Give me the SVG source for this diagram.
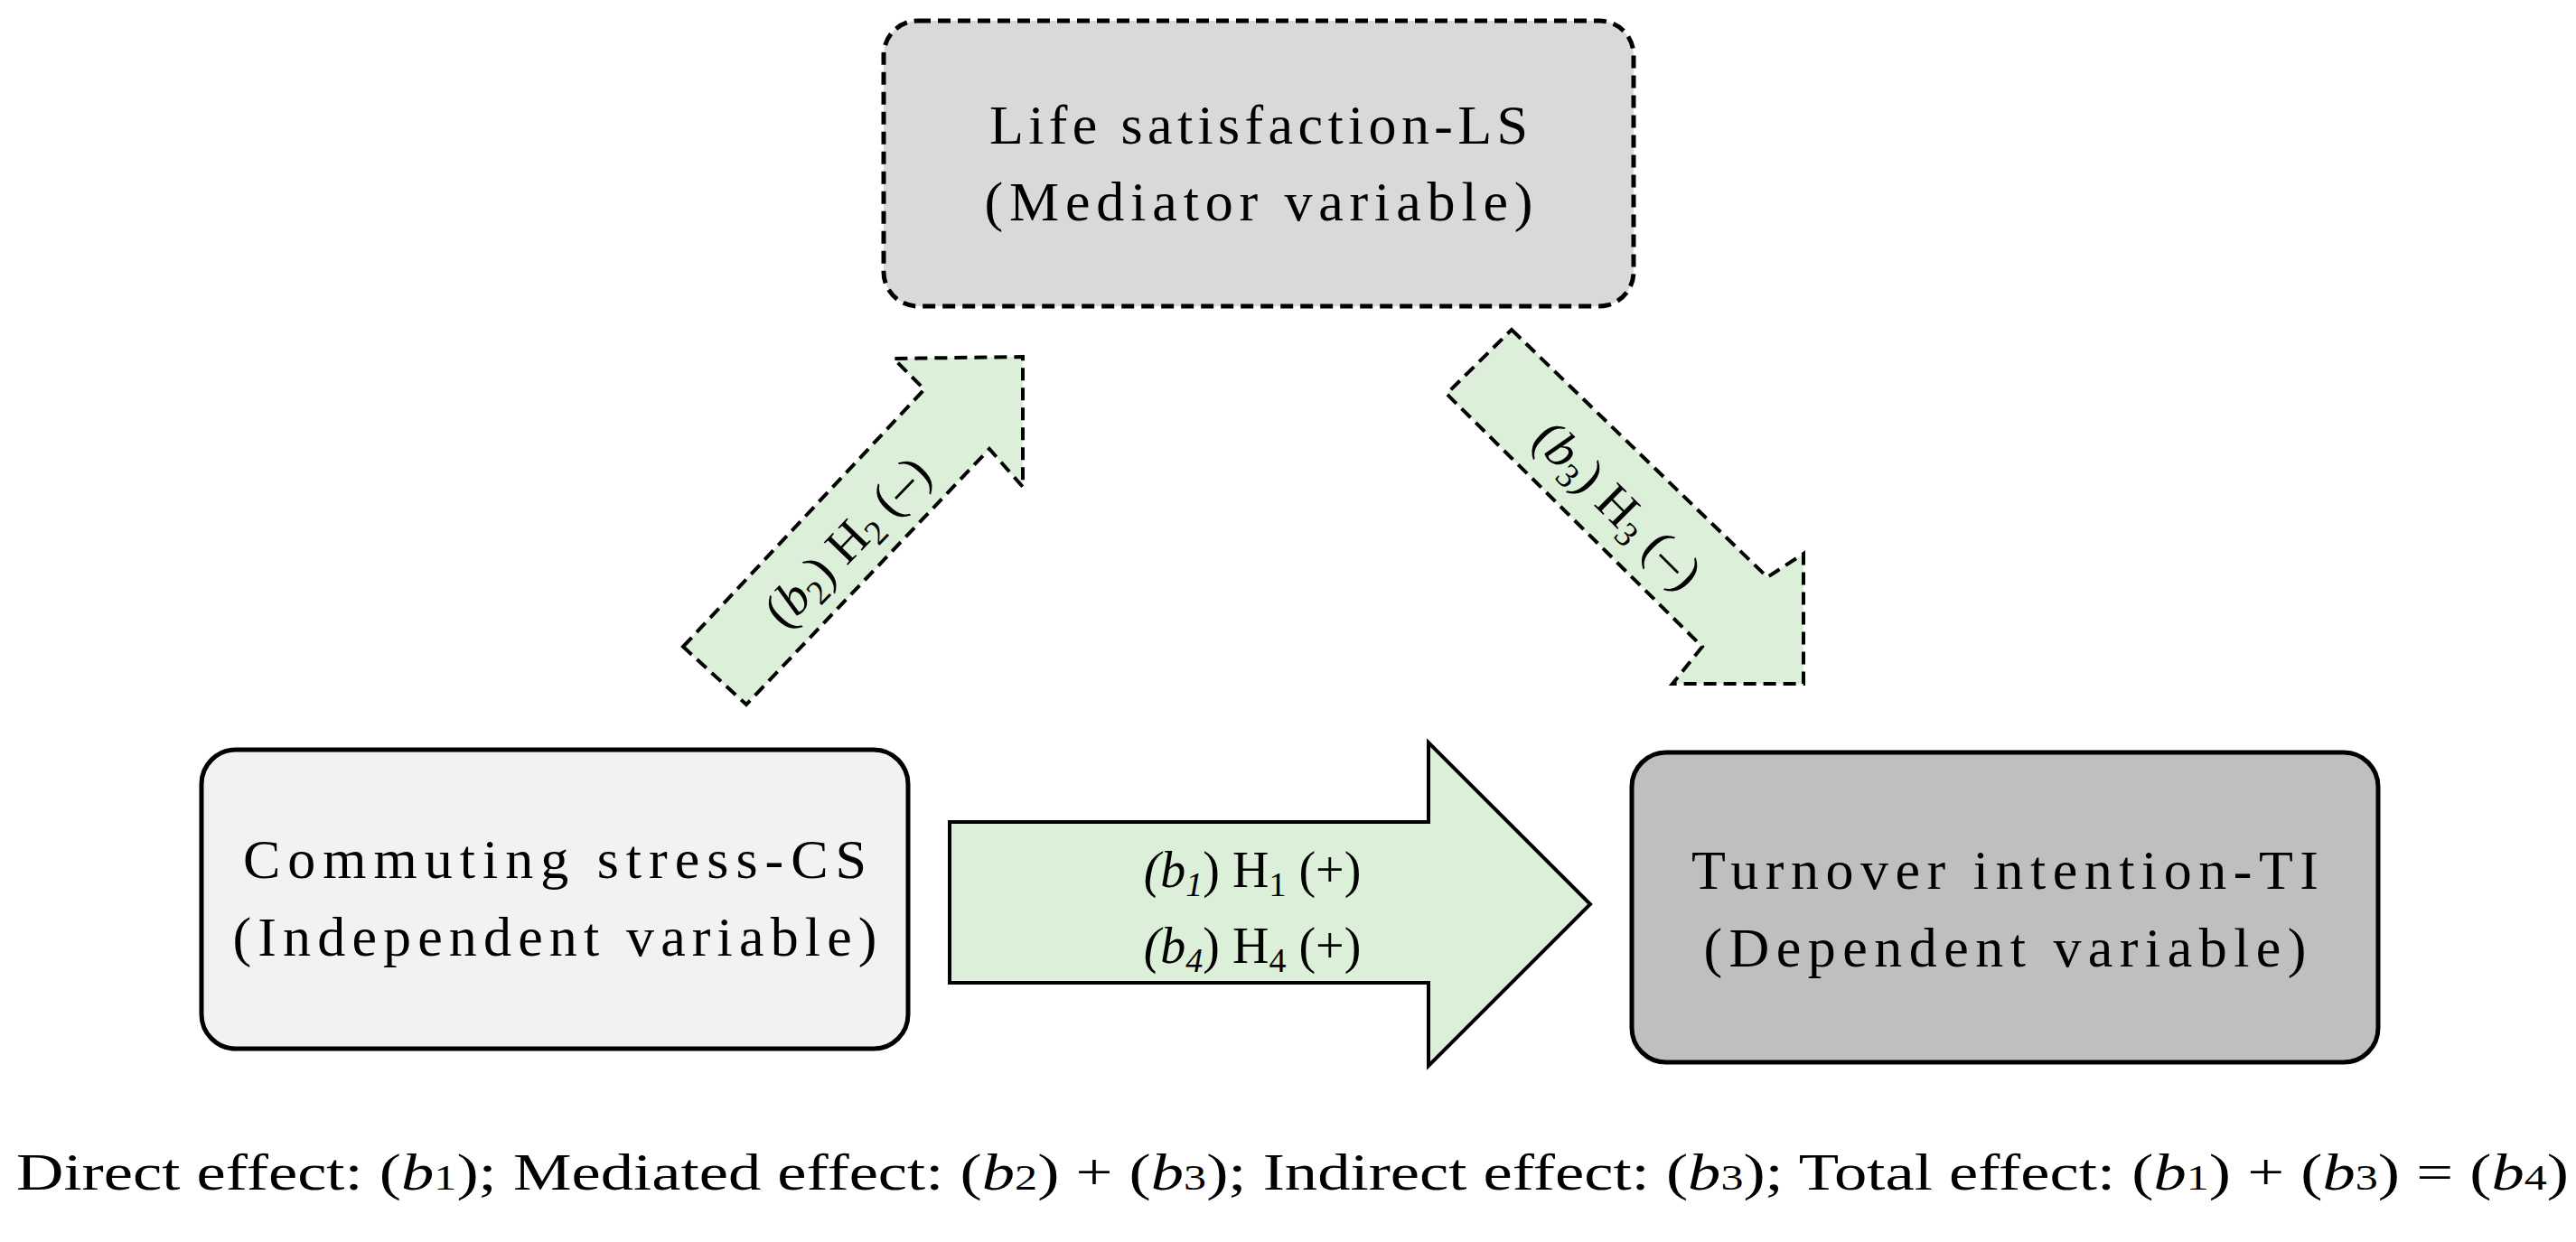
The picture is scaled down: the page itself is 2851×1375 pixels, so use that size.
<svg xmlns="http://www.w3.org/2000/svg" width="2851" height="1375" viewBox="0 0 2851 1375">
<style>
text{font-family:"Liberation Serif","DejaVu Serif",serif;fill:#000;}
.box{stroke:#000;stroke-width:5;}
.dash{stroke-dasharray:14 8;}
.arr{fill:#dcefd9;stroke:#000;stroke-width:4;}
.t{font-size:62px;text-anchor:middle;}
.l{font-size:56px;text-anchor:middle;}
</style>
<rect width="2851" height="1375" fill="#fff"/>
<g id="connectors">
  <path class="arr" d="M1051,910 H1581 V822 L1760,1001 L1581,1180 V1088 H1051 Z"/>
  <path class="arr dash" d="M756,716 L1023,431 L989,397 L1132,395 L1132,539 L1095,497 L826,780 Z"/>
  <path class="arr dash" d="M1673,365 L1956,639 L1996,613 L1996,757 L1851,757 L1884,716 L1601,436 Z"/>
  <text class="l" x="1386" y="982"><tspan font-style="italic">(b</tspan><tspan font-style="italic" font-size="38" dy="10">1</tspan><tspan dy="-10">) H</tspan><tspan font-size="38" dy="10">1</tspan><tspan dy="-10"> (+)</tspan></text>
  <text class="l" x="1386" y="1066"><tspan font-style="italic">(b</tspan><tspan font-style="italic" font-size="38" dy="10">4</tspan><tspan dy="-10">) H</tspan><tspan font-size="38" dy="10">4</tspan><tspan dy="-10"> (+)</tspan></text>
  <text class="l" transform="translate(938,600) rotate(-46)" y="18">(<tspan font-style="italic">b</tspan><tspan font-size="38" dy="10">2</tspan><tspan dy="-10">) H</tspan><tspan font-size="38" dy="10">2</tspan><tspan dy="-10"> (–)</tspan></text>
  <text class="l" transform="translate(1790,560) rotate(45)" y="18">(<tspan font-style="italic">b</tspan><tspan font-size="38" dy="10">3</tspan><tspan dy="-10">) H</tspan><tspan font-size="38" dy="10">3</tspan><tspan dy="-10"> (–)</tspan></text>
</g>
<g id="LS">
  <rect class="box dash" x="978" y="23" width="830" height="316" rx="38" fill="#d9d9d9"/>
  <text class="t" x="1393" y="159" textLength="596">Life satisfaction-LS</text>
  <text class="t" x="1393" y="244" textLength="607">(Mediator variable)</text>
</g>
<g id="CS">
  <rect class="box" x="223" y="830" width="782" height="331" rx="38" fill="#f2f2f2"/>
  <text class="t" x="614" y="972" textLength="690">Commuting stress-CS</text>
  <text class="t" x="614" y="1058" textLength="713">(Independent variable)</text>
</g>
<g id="TI">
  <rect class="box" x="1806" y="833" width="826" height="343" rx="38" fill="#bfbfbf"/>
  <text class="t" x="2219" y="984" textLength="694">Turnover intention-TI</text>
  <text class="t" x="2219" y="1070" textLength="667">(Dependent variable)</text>
</g>
<g id="caption">
  <text x="18" y="1317" font-size="58" textLength="2825" lengthAdjust="spacingAndGlyphs">Direct effect: (<tspan font-style="italic">b</tspan><tspan font-size="40">1</tspan>); Mediated effect: (<tspan font-style="italic">b</tspan><tspan font-size="40">2</tspan>) + (<tspan font-style="italic">b</tspan><tspan font-size="40">3</tspan>); Indirect effect: (<tspan font-style="italic">b</tspan><tspan font-size="40">3</tspan>); Total effect: (<tspan font-style="italic">b</tspan><tspan font-size="40">1</tspan>) + (<tspan font-style="italic">b</tspan><tspan font-size="40">3</tspan>) = (<tspan font-style="italic">b</tspan><tspan font-size="40">4</tspan>)</text>
</g>
</svg>
